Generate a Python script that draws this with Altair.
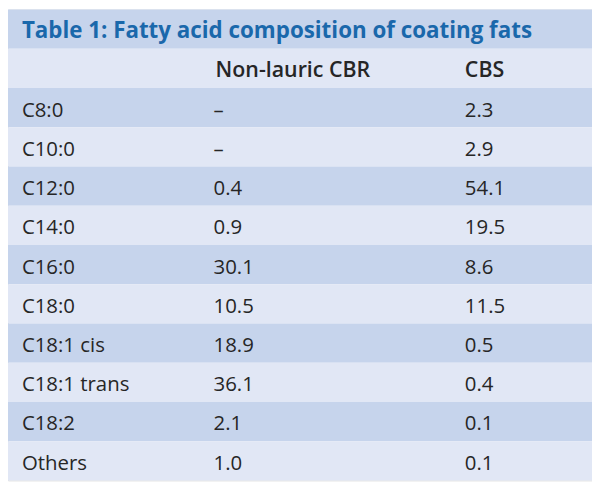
import altair as alt
import pandas as pd

title_text = "Table 1: Fatty acid composition of coating fats"
col_headers = ["Non-lauric CBR", "CBS"]
acids = ["C8:0", "C10:0", "C12:0", "C14:0", "C16:0", "C18:0",
         "C18:1 cis", "C18:1 trans", "C18:2", "Others"]
cbr = ["–", "–", "0.4", "0.9", "30.1", "10.5", "18.9", "36.1", "2.1", "1.0"]
cbs = ["2.3", "2.9", "54.1", "19.5", "8.6", "11.5", "0.5", "0.4", "0.1", "0.1"]

rows = ["title", "header"] + acids
kind = ["title", "header"] + ["data"] * len(acids)
labels = [title_text, ""] + acids
c1 = ["", col_headers[0]] + cbr
c2 = ["", col_headers[1]] + cbs
shade = ["dark" if i % 2 == 0 else "light" for i in range(len(rows))]

df = pd.DataFrame({"row": rows, "kind": kind, "label": labels,
                   "c1": c1, "c2": c2, "shade": shade})

W, H = 588, 474
FONT = "Open Sans"
BODY = 20.5
TXT = "#262626"

def yenc():
    return alt.Y("row:N", sort=rows, axis=None, bandPosition=0.5,
                 scale=alt.Scale(paddingInner=0, paddingOuter=0))

base = alt.Chart(df)

bands = base.mark_rect().encode(
    x=alt.value(0), x2=alt.value(W),
    y=alt.Y("row:N", sort=rows, axis=None,
            scale=alt.Scale(paddingInner=0, paddingOuter=0)),
    color=alt.Color("shade:N", legend=None,
                    scale=alt.Scale(domain=["dark", "light"],
                                    range=["#c6d4ec", "#e1e7f5"])),
)

def text_layer(k, field, xpos, size, weight="normal", color=TXT, dy=3):
    return base.transform_filter(alt.datum.kind == k).mark_text(
        align="left", baseline="middle", font=FONT, fontSize=size,
        fontWeight=weight, color=color, dy=dy
    ).encode(x=alt.value(xpos), y=yenc(), text=f"{field}:N")

title = text_layer("title", "label", 14, 22.5, "bold", "#1a68ab", dy=1.5)
hdr1 = text_layer("header", "c1", 209, 21.5, 600)
hdr2 = text_layer("header", "c2", 460, 21.5, 600)
lab = text_layer("data", "label", 14, BODY)
v1 = text_layer("data", "c1", 207, BODY)
v2 = text_layer("data", "c2", 460, BODY)

chart = alt.layer(bands, title, hdr1, hdr2, lab, v1, v2).properties(
    width=W, height=H, padding=0
).configure_view(stroke=None).configure(background="white")

chart.save("out.html", embed_options={"renderer": "svg", "actions": False})
